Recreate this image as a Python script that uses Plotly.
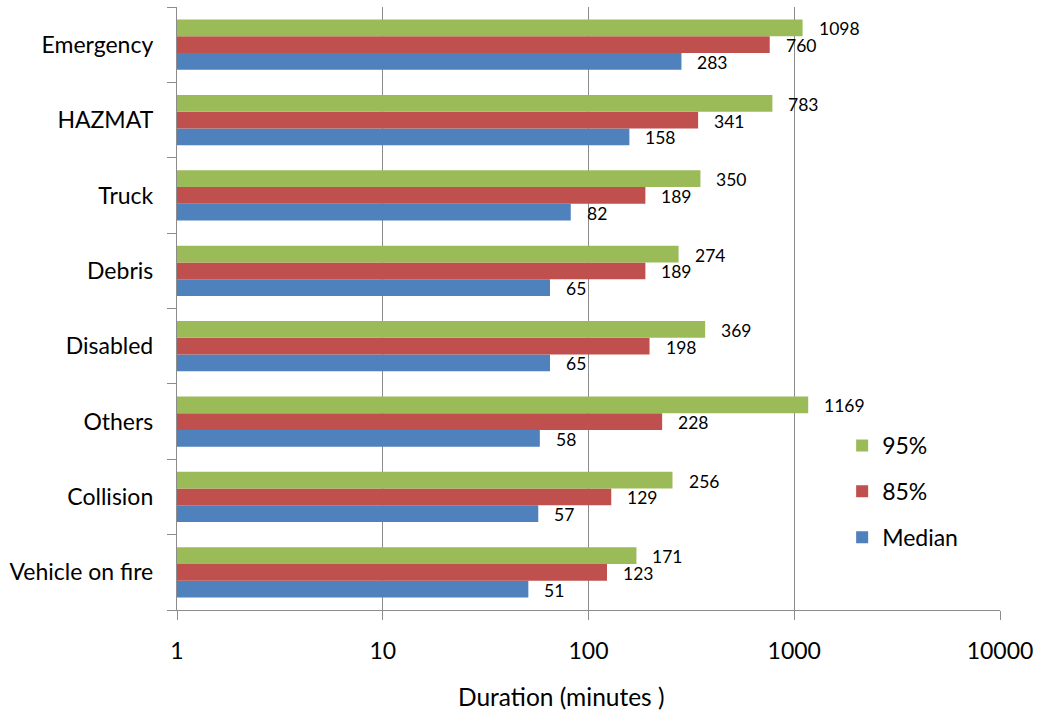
import numpy as np
import plotly.graph_objects as go

categories = ["Vehicle on fire", "Collision", "Others", "Disabled", "Debris", "Truck", "HAZMAT", "Emergency"]
median = [51, 57, 58, 65, 65, 82, 158, 283]
p85 = [123, 129, 228, 198, 189, 189, 341, 760]
p95 = [171, 256, 1169, 369, 274, 350, 783, 1098]
x_ticks = [1, 10, 100, 1000, 10000]

series = [("Median", median, "#4F81BD", 3), ("85%", p85, "#C0504D", 2), ("95%", p95, "#9BBB59", 1)]

FONT = "Lato, Carlito, Calibri, sans-serif"
fig = go.Figure()
for name, vals, col, rank in series:
    fig.add_trace(go.Bar(
        y=categories, x=vals, orientation="h", name=name,
        marker=dict(color=col, line=dict(width=0)),
        legendgroup=name, legendrank=rank,
    ))

# data labels
band_px = (713 - 7 - 103) / len(categories)
bar_px = band_px * (1 - 0.333) / 3
offsets = {"Median": -bar_px, "85%": 0, "95%": bar_px}
for name, vals, col, rank in series:
    for c, v in zip(categories, vals):
        fig.add_annotation(
            x=np.log10(v), y=c, xref="x", yref="y", text=str(v),
            showarrow=False, xanchor="left", yanchor="middle",
            xshift=14, yshift=offsets[name] - 1,
            font=dict(family=FONT, size=17.5, color="#000000"),
        )

fig.add_annotation(
    x=(564 - 177) / 829, y=(610 - 696) / 603, xref="paper", yref="paper",
    text="Duration (minutes )", showarrow=False, xanchor="center", yanchor="middle",
    font=dict(family=FONT, size=24.5, color="#000000"),
)

fig.update_layout(
    width=1040, height=713,
    margin=dict(l=177, r=34, t=7, b=103),
    paper_bgcolor="white", plot_bgcolor="white",
    barmode="group", bargap=0.333, bargroupgap=0,
    font=dict(family=FONT, size=23, color="#000000"),
    showlegend=True,
    legend=dict(
        x=(847 - 177) / 829, y=(610 - 424) / 603, xanchor="left", yanchor="top",
        traceorder="grouped", tracegroupgap=13,
        font=dict(family=FONT, size=23, color="#000000"),
        bgcolor="rgba(0,0,0,0)",
    ),
)
fig.update_xaxes(
    type="log", range=[0, 4], tickvals=x_ticks, ticktext=[str(t) for t in x_ticks],
    showgrid=True, gridcolor="#8C8C8C", gridwidth=1.3,
    showline=True, linecolor="#8C8C8C", linewidth=1.3,
    ticks="outside", ticklen=9, tickcolor="#8C8C8C", tickwidth=1.3,
    ticklabelstandoff=11, zeroline=False,
    tickfont=dict(family=FONT, size=23, color="#000000"),
)
fig.update_yaxes(
    type="category", categoryorder="array", categoryarray=categories,
    range=[-0.5, len(categories) - 0.5],
    showgrid=False, showline=True, linecolor="#8C8C8C", linewidth=1.3,
    ticks="outside", ticklen=9, tickcolor="#8C8C8C", tickwidth=1.3,
    tickson="boundaries", ticklabelstandoff=18,
    tickfont=dict(family=FONT, size=23, color="#000000"),
)

fig.write_html("out.html", config={"displayModeBar": False},
               post_script="document.body.style.margin='0';")
